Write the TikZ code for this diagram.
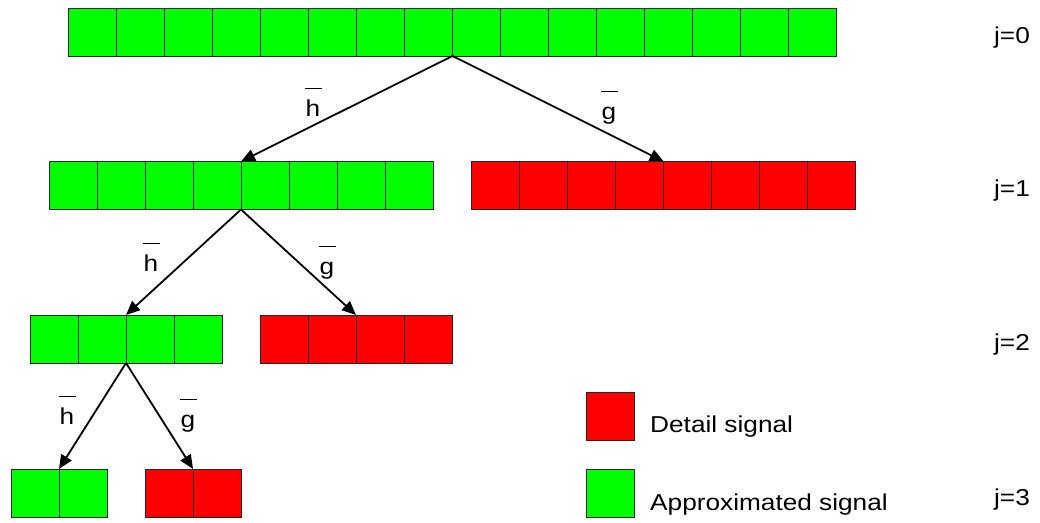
\documentclass[tikz,border=0pt]{standalone}
\usepackage{fontspec}
\setmainfont{Liberation Sans}[FakeStretch=1.14]
\usetikzlibrary{arrows.meta,calc}
\definecolor{cgreen}{RGB}{0,255,0}
\definecolor{cred}{RGB}{255,0,0}
\newcommand\barlab[1]{\begin{tabular}[b]{@{}c@{}}\rule{17pt}{1pt}\\#1\end{tabular}}
\begin{document}
\begin{tikzpicture}[x=1pt,y=-1pt,
  font=\fontsize{23}{27}\selectfont,
  sigrow/.style={draw=black!85, line width=1pt, inner sep=0pt, outer sep=0pt, minimum height=48pt},
  appr/.style={sigrow, fill=cgreen},
  det/.style={sigrow, fill=cred},
  cellsep/.style={draw=black!85, line width=1pt},
  conn/.style={line width=1.8pt, -{Triangle[length=14pt,width=12pt]}},
  txt/.style={inner sep=0pt}]
\useasboundingbox (0,0) rectangle (1040,522);
% rows
\node[appr, minimum width=768pt] (r0) at (452.5,32) {};
\node[appr, minimum width=384pt] (r1a) at (241,185.5) {};
\node[det,  minimum width=384pt] (r1d) at (663.7,185.5) {};
\node[appr, minimum width=192pt] (r2a) at (126,339) {};
\node[det,  minimum width=192pt] (r2d) at (356,339) {};
\node[appr, minimum width=96pt] (r3a) at (59,493) {};
\node[det,  minimum width=96pt] (r3d) at (193,493) {};
% legend boxes
\node[det,  minimum width=48pt] (ld) at (610.5,416) {};
\node[appr, minimum width=48pt] (la) at (610.5,493) {};
% cell dividers
\foreach \n/\k in {r0/16, r1a/8, r1d/8, r2a/4, r2d/4, r3a/2, r3d/2} {
  \pgfmathtruncatemacro\m{\k-1}
  \foreach \i in {1,...,\m}
    \draw[cellsep] ($(\n.north west)!\i/\k!(\n.north east)$) -- ($(\n.south west)!\i/\k!(\n.south east)$);
}
% connectors
\draw[conn] (r0.south) -- (r1a.north);
\draw[conn] (r0.south) -- (r1d.north);
\draw[conn] (r1a.south) -- (r2a.north);
\draw[conn] (r1a.south) -- (r2d.north);
\draw[conn] (r2a.south) -- (r3a.north);
\draw[conn] (r2a.south) -- (r3d.north);
% filter labels
\node[txt, anchor=base] (h0) at (313,116) {\barlab{h}};
\node[txt, anchor=base] (g0) at (609,119) {\barlab{g}};
\node[txt, anchor=base] (h1) at (151,271) {\barlab{h}};
\node[txt, anchor=base] (g1) at (327,274) {\barlab{g}};
\node[txt, anchor=base] (h2) at (67,424) {\barlab{h}};
\node[txt, anchor=base] (g2) at (188,427) {\barlab{g}};
% level labels
\node[txt, anchor=base] (j0) at (1012,43) {j=0};
\node[txt, anchor=base] (j1) at (1012,196) {j=1};
\node[txt, anchor=base] (j2) at (1012,350) {j=2};
\node[txt, anchor=base] (j3) at (1012,505) {j=3};
% legend text
\node[txt, anchor=base west] (tdet) at (650,432) {Detail signal};
\node[txt, anchor=base west] (tapp) at (650,510) {Approximated signal};
\end{tikzpicture}
\end{document}
